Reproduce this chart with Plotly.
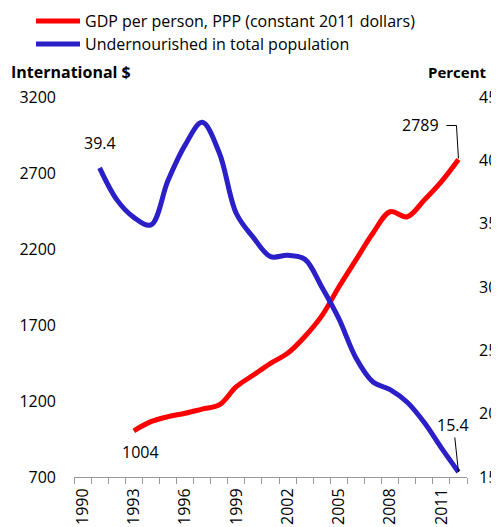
import plotly.graph_objects as go

# data
years = [str(y) for y in range(1990, 2013)]
gdp = [None, None, None, 1004, 1064, 1097, 1119, 1147, 1174, 1294, 1371, 1448,
       1514, 1623, 1760, 1950, 2128, 2305, 2445, 2412, 2522, 2643, 2789]
undernourished = [None, 39.4, 36.9, 35.5, 34.9, 38.4, 41.2, 43.0, 40.6, 35.8, 33.9, 32.4,
                  32.5, 32.2, 30.0, 27.5, 24.4, 22.5, 21.9, 20.9, 19.3, 17.3, 15.4]
year_labels = [y if (int(y) - 1990) % 3 == 0 else "" for y in years]
left_ticks = [700, 1200, 1700, 2200, 2700, 3200]
right_ticks = [15, 20, 25, 30, 35, 40, 45]
series_names = ["GDP per person, PPP (constant 2011 dollars)",
                "Undernourished in total population"]

RED = "#ff0000"
BLUE = "#2b20c8"
FONT = "Open Sans"

# the page adds an 8px body margin, so the figure is shifted by that much
OFF = 8
# plot area in figure pixels
L, R, T, B = 74 - OFF, 467 - OFF, 97 - OFF, 477 - OFF


def px(x):
    # screen x -> paper
    return (x - OFF - L) / (R - L)


def py(y):
    # screen y -> paper
    return (B - (y - OFF)) / (B - T)


fig = go.Figure()
fig.add_trace(go.Scatter(
    x=years, y=gdp, name=series_names[0],
    mode="lines", line=dict(color=RED, width=5, shape="spline", smoothing=1),
    yaxis="y"
))
fig.add_trace(go.Scatter(
    x=years, y=undernourished, name=series_names[1],
    mode="lines", line=dict(color=BLUE, width=5, shape="spline", smoothing=1),
    yaxis="y2"
))

# data labels (category axis -> positions by index)
first_blue = 1
first_red = 3
last = len(years) - 1
fig.add_annotation(x=first_blue, y=undernourished[first_blue], yref="y2", text="39.4",
                   showarrow=False, yshift=25)
fig.add_annotation(x=first_red, y=gdp[first_red], yref="y", text="1004",
                   showarrow=False, xshift=7, yshift=-21)
fig.add_annotation(x=last, y=gdp[last], yref="y", text="2789",
                   showarrow=False, xshift=-38, yshift=34)
fig.add_annotation(x=last, y=undernourished[last], yref="y2", text="15.4",
                   showarrow=True, arrowhead=0, arrowwidth=1, arrowcolor="black",
                   ax=-5, ay=-47)
# elbow leader for 2789
fig.add_shape(type="path", xref="x", yref="y", xsizemode="pixel", ysizemode="pixel",
              xanchor=last, yanchor=gdp[last], path="M -12,34 L -2,34 L 0,1",
              line=dict(color="black", width=1))

# legend drawn by hand (top-left, outside the plot)
for i, (name, color) in enumerate(zip(series_names, [RED, BLUE])):
    yy = py(21 + 23 * i)
    fig.add_shape(type="line", xref="paper", yref="paper", x0=px(36), x1=px(80),
                  y0=yy, y1=yy, line=dict(color=color, width=5))
    fig.add_annotation(xref="paper", yref="paper", x=px(83), y=yy, xanchor="left",
                       yanchor="middle", text=name, showarrow=False,
                       font=dict(size=16))

# axis titles
fig.add_annotation(xref="paper", yref="paper", x=px(9), y=py(72), xanchor="left",
                   yanchor="middle", text="<b>International $</b>", showarrow=False,
                   font=dict(size=16))
fig.add_annotation(xref="paper", yref="paper", x=px(489), y=py(72), xanchor="right",
                   yanchor="middle", text="<b>Percent</b>", showarrow=False,
                   font=dict(size=15))

fig.update_layout(
    width=499, height=527,
    margin=dict(l=L, r=499 - R, t=T, b=527 - B),
    plot_bgcolor="white", paper_bgcolor="white",
    font=dict(family=FONT, size=16, color="black"),
    showlegend=False,
    xaxis=dict(type="category", tickvals=years, ticktext=year_labels,
               tickson="boundaries", ticks="outside", ticklen=6, tickcolor="#999",
               showline=True, linecolor="#999", linewidth=1, tickangle=-90,
               ticklabelstandoff=4,
               showgrid=False, range=[-0.5, 22.5], automargin=False),
    yaxis=dict(range=[700, 3200], tickvals=left_ticks, showgrid=False,
               zeroline=False, showline=False, ticklabelstandoff=17,
               automargin=False),
    yaxis2=dict(range=[15, 45], tickvals=right_ticks, overlaying="y", side="right",
                showgrid=False, zeroline=False, showline=False,
                ticklabelstandoff=11, automargin=False),
)

fig.write_html("out.html")
